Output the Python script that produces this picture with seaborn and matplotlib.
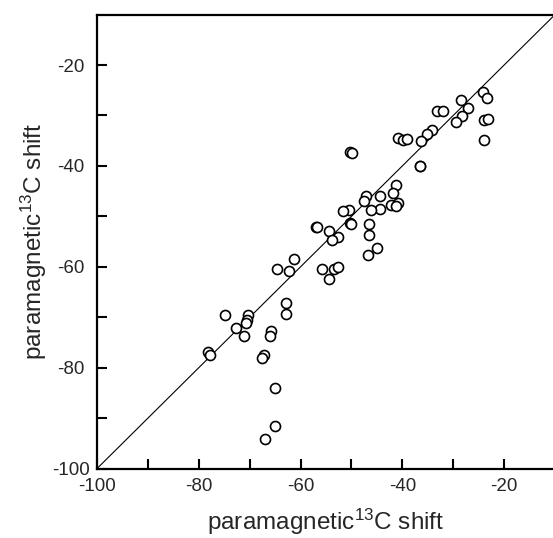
import numpy as np
import pandas as pd
import matplotlib
matplotlib.use('Agg')
import matplotlib.pyplot as plt
import seaborn as sns

# valores (desplazamiento 13C)
shift_x = [
    -24.1, -23.3, -28.5, -27.0, -33.1, -32.0, -28.3, -29.4, -24.0, -23.2,
    -34.1, -35.1, -36.3, -24.0, -40.8, -39.9, -39.1, -50.2, -49.9, -36.6,
    -36.5, -41.2, -41.8, -44.3, -47.2, -47.5, -40.9, -42.2, -41.2, -44.3,
    -46.2, -50.4, -51.6, -50.3, -50.1, -46.5, -46.5, -57.0, -56.8, -54.4,
    -52.7, -53.8, -45.0, -46.8, -61.3, -64.6, -62.2, -55.7, -53.5, -52.6,
    -54.4, -62.8, -62.9, -74.8, -70.3, -70.5, -70.8, -72.7, -71.1, -65.9,
    -66.1, -78.2, -77.8, -67.2, -67.5, -65.1, -65.0, -66.9,
]
shift_y = [
    -25.3, -26.6, -27.0, -28.6, -29.1, -29.2, -30.1, -31.2, -30.9, -30.7,
    -32.9, -33.7, -35.0, -34.9, -34.5, -34.8, -34.7, -37.3, -37.4, -40.0,
    -40.1, -43.7, -45.3, -46.0, -46.0, -46.9, -47.3, -47.8, -48.0, -48.5,
    -48.7, -48.8, -49.0, -51.4, -51.5, -51.5, -53.6, -52.2, -52.2, -52.8,
    -54.1, -54.7, -56.3, -57.7, -58.5, -60.5, -60.9, -60.4, -60.4, -60.0,
    -62.4, -67.1, -69.4, -69.6, -69.6, -70.6, -71.1, -72.1, -73.8, -72.8,
    -73.7, -76.8, -77.5, -77.5, -78.0, -84.0, -91.6, -94.1,
]
tick_vals = [-100, -90, -80, -70, -60, -50, -40, -30, -20]
tick_labels = ['-100', '', '-80', '', '-60', '', '-40', '', '-20']

df = pd.DataFrame({'x': shift_x, 'y': shift_y})

sns.set_style('ticks')
plt.rcParams['font.family'] = ['Liberation Sans', 'DejaVu Sans']
plt.rcParams['mathtext.fontset'] = 'custom'
plt.rcParams['mathtext.rm'] = 'Liberation Sans'
plt.rcParams['mathtext.default'] = 'regular'

fig = plt.figure(figsize=(5.53, 5.38), dpi=100)
ax = fig.add_axes([97 / 553, (538 - 468.6) / 538, 458 / 553, 454 / 538])

# linea y = x
ax.plot([-100, -10], [-100, -10], color='black', lw=0.8, zorder=1)

sns.scatterplot(data=df, x='x', y='y', ax=ax, marker='o', s=52,
                facecolor='white', edgecolor='black', linewidth=1.2,
                zorder=2, legend=False)

ax.set_xlim(-100, -10)
ax.set_ylim(-100, -10)
ax.set_xticks(tick_vals)
ax.set_yticks(tick_vals)
ax.set_xticklabels(tick_labels)
ax.set_yticklabels(tick_labels, ha='center')
ax.tick_params(direction='in', length=7, width=1.5, labelsize=13.5, color='black')
ax.tick_params(axis='x', pad=7)
ax.tick_params(axis='y', pad=19)
for sp in ax.spines.values():
    sp.set_linewidth(1.6)
    sp.set_color('black')

ax.set_xlabel('paramagnetic$^{13}$C shift', fontsize=17.5, labelpad=8)
ax.set_ylabel('paramagnetic$^{13}$C shift', fontsize=17.5, labelpad=2)

fig.savefig('out.png', dpi=100)
